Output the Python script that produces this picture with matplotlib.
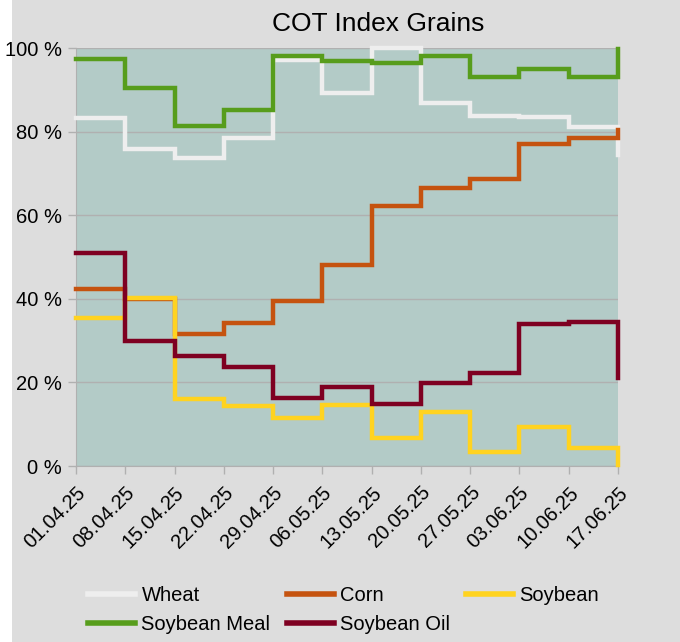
import matplotlib
matplotlib.use("Agg")
import matplotlib.pyplot as plt
from matplotlib.patches import Rectangle

dates = ["01.04.25", "08.04.25", "15.04.25", "22.04.25", "29.04.25", "06.05.25",
         "13.05.25", "20.05.25", "27.05.25", "03.06.25", "10.06.25", "17.06.25"]
wheat = [83.3, 75.8, 73.6, 78.5, 97.1, 89.3, 99.9, 86.9, 83.7, 83.4, 81.2, 74.4]
corn = [42.3, 39.9, 31.6, 34.3, 39.5, 48.2, 62.3, 66.4, 68.6, 77.0, 78.4, 80.4]
soybean = [35.5, 40.3, 16.0, 14.4, 11.6, 14.6, 6.6, 13.0, 3.4, 9.4, 4.2, 0.2]
soy_meal = [97.3, 90.5, 81.4, 85.2, 98.1, 97.0, 96.3, 98.1, 93.1, 95.0, 93.0, 99.7]
soy_oil = [50.9, 29.9, 26.2, 23.8, 16.3, 19.0, 14.8, 19.8, 22.2, 33.9, 34.5, 21.0]
yticks = [0, 20, 40, 60, 80, 100]
ytick_labels = ["0 %", "20 %", "40 %", "60 %", "80 %", "100 %"]

series = [
    ("Wheat", wheat, "#eeeeee"),
    ("Corn", corn, "#c5530f"),
    ("Soybean", soybean, "#ffd320"),
    ("Soybean Meal", soy_meal, "#579d1c"),
    ("Soybean Oil", soy_oil, "#7e0021"),
]

plt.rcParams['font.family'] = ['Liberation Sans', 'DejaVu Sans']

fig = plt.figure(figsize=(6.8, 6.42), dpi=100, facecolor="#dddddd")
fig.patches.append(Rectangle((0, 0), 12/680, 1, transform=fig.transFigure,
                             facecolor="white", edgecolor="none", zorder=-10))
ax = fig.add_axes([76/680, 1 - 466/642, (618 - 76)/680, (466 - 48)/642])
ax.set_facecolor("#b3cbc7")

x = list(range(len(dates)))
handles = {}
for name, vals, col in series:
    h, = ax.plot(x, vals, drawstyle="steps-post", color=col, lw=3.2, label=name,
                 solid_joinstyle="miter", clip_on=False, zorder=3)
    handles[name] = h

ax.set_xlim(0, len(dates) - 1)
ax.set_ylim(0, 100)
ax.set_yticks(yticks)
ax.set_yticklabels(ytick_labels, fontsize=14.5)
ax.set_xticks(x)
ax.set_xticklabels(dates, fontsize=14.5, rotation=45, ha="right", va="top",
                   rotation_mode="anchor")
ax.grid(axis="y", color="#b0b0b0", lw=1, zorder=1)
for s in ["top", "right"]:
    ax.spines[s].set_visible(False)
for s in ["left", "bottom"]:
    ax.spines[s].set_color("#b0b0b0")
ax.tick_params(axis="both", color="#b0b0b0", length=6, width=1, pad=4)
ax.tick_params(axis="x", pad=6)

fig.text(378/680, 1 - 24/642, "COT Index Grains", fontsize=19, ha="center", va="center")

order = ["Wheat", "Soybean Meal", "Corn", "Soybean Oil", "Soybean"]
leg = fig.legend([handles[n] for n in order], order, loc="upper left",
                 bbox_to_anchor=(80/680, 1 - 578/642), ncol=3, borderaxespad=0,
                 frameon=False, fontsize=14.5, handlelength=2.35, handletextpad=0.3,
                 columnspacing=0.8, labelspacing=0.5)
for line in leg.get_lines():
    line.set_linewidth(4)

fig.savefig("out.png", dpi=100, facecolor=fig.get_facecolor())
